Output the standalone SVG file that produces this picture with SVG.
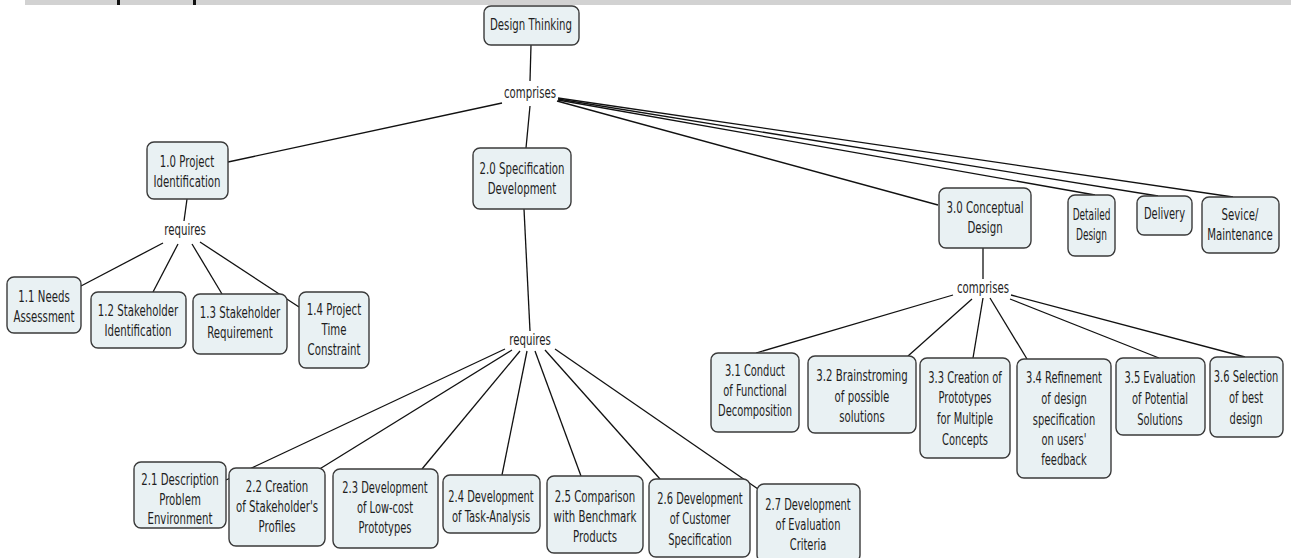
<svg xmlns="http://www.w3.org/2000/svg" width="1291" height="558" viewBox="0 0 1291 558">
<style>
.n{fill:#e9f1f3;stroke:#3a3a3a;stroke-width:1.4}
.t{font-family:"DejaVu Sans","Liberation Sans",sans-serif;font-size:15px;fill:#1e1e1e;text-anchor:middle}
.c line{stroke:#111;stroke-width:1.3}
</style>
<rect x="0" y="0" width="1291" height="558" fill="#fff"/>
<rect x="25" y="0" width="1266" height="5" fill="#d2d2d2"/>
<rect x="117" y="0" width="3" height="5" fill="#111"/>
<rect x="193" y="0" width="3" height="5" fill="#111"/>
<g id="connectors" class="c">
<line x1="531" y1="45" x2="530" y2="81"/>
<line x1="502" y1="103" x2="228" y2="162"/>
<line x1="530" y1="106" x2="526" y2="148"/>
<line x1="557" y1="101" x2="938" y2="205"/>
<line x1="558" y1="100" x2="1095" y2="195"/>
<line x1="558" y1="99" x2="1158" y2="196"/>
<line x1="558" y1="98" x2="1233" y2="197"/>
<line x1="187" y1="199" x2="184" y2="221"/>
<line x1="163" y1="243" x2="81" y2="286"/>
<line x1="178" y1="244" x2="153" y2="292"/>
<line x1="192" y1="244" x2="222" y2="294"/>
<line x1="200" y1="242" x2="299" y2="307"/>
<line x1="524" y1="209" x2="530" y2="331"/>
<line x1="505" y1="349" x2="226" y2="480"/>
<line x1="512" y1="350" x2="318" y2="470"/>
<line x1="520" y1="351" x2="422" y2="469"/>
<line x1="527" y1="351" x2="502" y2="475"/>
<line x1="535" y1="351" x2="581" y2="476"/>
<line x1="545" y1="350" x2="660" y2="479"/>
<line x1="555" y1="349" x2="758" y2="489"/>
<line x1="983" y1="248" x2="983" y2="279"/>
<line x1="953" y1="295" x2="756" y2="353"/>
<line x1="972" y1="299" x2="908" y2="356"/>
<line x1="983" y1="298" x2="973" y2="358"/>
<line x1="990" y1="298" x2="1027" y2="359"/>
<line x1="1010" y1="299" x2="1159" y2="358"/>
<line x1="1011" y1="295" x2="1245" y2="357"/>
</g>
<g id="labels">
<text class="t" transform="matrix(0.68 0 0 1 530 0)"><tspan x="0" y="98">comprises</tspan></text>
<text class="t" transform="matrix(0.68 0 0 1 185 0)"><tspan x="0" y="235">requires</tspan></text>
<text class="t" transform="matrix(0.68 0 0 1 530 0)"><tspan x="0" y="345">requires</tspan></text>
<text class="t" transform="matrix(0.68 0 0 1 983 0)"><tspan x="0" y="293">comprises</tspan></text>
</g>
<g id="dt"><rect class="n" x="484" y="6" width="95" height="39" rx="7"/><text class="t" transform="matrix(0.68 0 0 1 531 0)"><tspan x="0" y="30">Design Thinking</tspan></text></g>
<g id="n10"><rect class="n" x="147" y="142" width="81" height="57" rx="7"/><text class="t" transform="matrix(0.68 0 0 1 187 0)"><tspan x="0" y="167">1.0 Project</tspan><tspan x="0" y="187">Identification</tspan></text></g>
<g id="n20"><rect class="n" x="473" y="148" width="98" height="61" rx="7"/><text class="t" transform="matrix(0.68 0 0 1 522 0)"><tspan x="0" y="174">2.0 Specification</tspan><tspan x="0" y="194">Development</tspan></text></g>
<g id="n30"><rect class="n" x="939" y="188" width="92" height="60" rx="7"/><text class="t" transform="matrix(0.68 0 0 1 985 0)"><tspan x="0" y="213">3.0 Conceptual</tspan><tspan x="0" y="233">Design</tspan></text></g>
<g id="ndd"><rect class="n" x="1068" y="195" width="47" height="61" rx="7"/><text class="t" transform="matrix(0.6 0 0 1 1091.5 0)"><tspan x="0" y="220">Detailed</tspan><tspan x="0" y="240">Design</tspan></text></g>
<g id="ndl"><rect class="n" x="1137" y="196" width="55" height="39" rx="7"/><text class="t" transform="matrix(0.66 0 0 1 1164.5 0)"><tspan x="0" y="219">Delivery</tspan></text></g>
<g id="nsm"><rect class="n" x="1202" y="197" width="77" height="56" rx="7"/><text class="t" transform="matrix(0.68 0 0 1 1240 0)"><tspan x="0" y="220">Sevice/</tspan><tspan x="0" y="240">Maintenance</tspan></text></g>
<g id="n11"><rect class="n" x="7" y="277" width="74" height="56" rx="7"/><text class="t" transform="matrix(0.68 0 0 1 44 0)"><tspan x="0" y="302">1.1 Needs</tspan><tspan x="0" y="322">Assessment</tspan></text></g>
<g id="n12"><rect class="n" x="91" y="292" width="95" height="56" rx="7"/><text class="t" transform="matrix(0.68 0 0 1 138 0)"><tspan x="0" y="316">1.2 Stakeholder</tspan><tspan x="0" y="336">Identification</tspan></text></g>
<g id="n13"><rect class="n" x="193" y="294" width="94" height="60" rx="7"/><text class="t" transform="matrix(0.68 0 0 1 240 0)"><tspan x="0" y="318">1.3 Stakeholder</tspan><tspan x="0" y="338">Requirement</tspan></text></g>
<g id="n14"><rect class="n" x="299" y="292" width="70" height="76" rx="7"/><text class="t" transform="matrix(0.68 0 0 1 334 0)"><tspan x="0" y="315">1.4 Project</tspan><tspan x="0" y="335">Time</tspan><tspan x="0" y="355">Constraint</tspan></text></g>
<g id="n21"><rect class="n" x="134" y="462" width="92" height="66" rx="7"/><text class="t" transform="matrix(0.68 0 0 1 180 0)"><tspan x="0" y="485">2.1 Description</tspan><tspan x="0" y="505">Problem</tspan><tspan x="0" y="524">Environment</tspan></text></g>
<g id="n22"><rect class="n" x="229" y="468" width="96" height="78" rx="7"/><text class="t" transform="matrix(0.68 0 0 1 277 0)"><tspan x="0" y="492">2.2 Creation</tspan><tspan x="0" y="512">of Stakeholder's</tspan><tspan x="0" y="532">Profiles</tspan></text></g>
<g id="n23"><rect class="n" x="333" y="469" width="105" height="79" rx="7"/><text class="t" transform="matrix(0.66 0 0 1 385 0)"><tspan x="0" y="493">2.3 Development</tspan><tspan x="0" y="513">of Low-cost</tspan><tspan x="0" y="533">Prototypes</tspan></text></g>
<g id="n24"><rect class="n" x="443" y="475" width="97" height="58" rx="7"/><text class="t" transform="matrix(0.66 0 0 1 491 0)"><tspan x="0" y="502">2.4 Development</tspan><tspan x="0" y="522">of Task-Analysis</tspan></text></g>
<g id="n25"><rect class="n" x="547" y="476" width="96" height="77" rx="7"/><text class="t" transform="matrix(0.68 0 0 1 595 0)"><tspan x="0" y="502">2.5 Comparison</tspan><tspan x="0" y="522">with Benchmark</tspan><tspan x="0" y="542">Products</tspan></text></g>
<g id="n26"><rect class="n" x="649" y="479" width="101" height="78" rx="7"/><text class="t" transform="matrix(0.66 0 0 1 700 0)"><tspan x="0" y="504">2.6 Development</tspan><tspan x="0" y="524">of Customer</tspan><tspan x="0" y="545">Specification</tspan></text></g>
<g id="n27"><rect class="n" x="757" y="484" width="103" height="78" rx="7"/><text class="t" transform="matrix(0.66 0 0 1 808 0)"><tspan x="0" y="510">2.7 Development</tspan><tspan x="0" y="530">of Evaluation</tspan><tspan x="0" y="550">Criteria</tspan></text></g>
<g id="n31"><rect class="n" x="711" y="353" width="88" height="79" rx="7"/><text class="t" transform="matrix(0.66 0 0 1 755 0)"><tspan x="0" y="376">3.1 Conduct</tspan><tspan x="0" y="396">of Functional</tspan><tspan x="0" y="416">Decomposition</tspan></text></g>
<g id="n32"><rect class="n" x="808" y="356" width="108" height="77" rx="7"/><text class="t" transform="matrix(0.68 0 0 1 862 0)"><tspan x="0" y="381">3.2 Brainstroming</tspan><tspan x="0" y="402">of possible</tspan><tspan x="0" y="422">solutions</tspan></text></g>
<g id="n33"><rect class="n" x="920" y="358" width="90" height="100" rx="7"/><text class="t" transform="matrix(0.66 0 0 1 965 0)"><tspan x="0" y="383">3.3 Creation of</tspan><tspan x="0" y="403">Prototypes</tspan><tspan x="0" y="424">for Multiple</tspan><tspan x="0" y="445">Concepts</tspan></text></g>
<g id="n34"><rect class="n" x="1017" y="359" width="94" height="119" rx="7"/><text class="t" transform="matrix(0.66 0 0 1 1064 0)"><tspan x="0" y="383">3.4 Refinement</tspan><tspan x="0" y="404">of design</tspan><tspan x="0" y="425">specification</tspan><tspan x="0" y="445">on users'</tspan><tspan x="0" y="465">feedback</tspan></text></g>
<g id="n35"><rect class="n" x="1116" y="358" width="89" height="77" rx="7"/><text class="t" transform="matrix(0.66 0 0 1 1160 0)"><tspan x="0" y="383">3.5 Evaluation</tspan><tspan x="0" y="404">of Potential</tspan><tspan x="0" y="425">Solutions</tspan></text></g>
<g id="n36"><rect class="n" x="1210" y="357" width="73" height="80" rx="7"/><text class="t" transform="matrix(0.66 0 0 1 1246 0)"><tspan x="0" y="382">3.6 Selection</tspan><tspan x="0" y="403">of best</tspan><tspan x="0" y="424">design</tspan></text></g>
</svg>
